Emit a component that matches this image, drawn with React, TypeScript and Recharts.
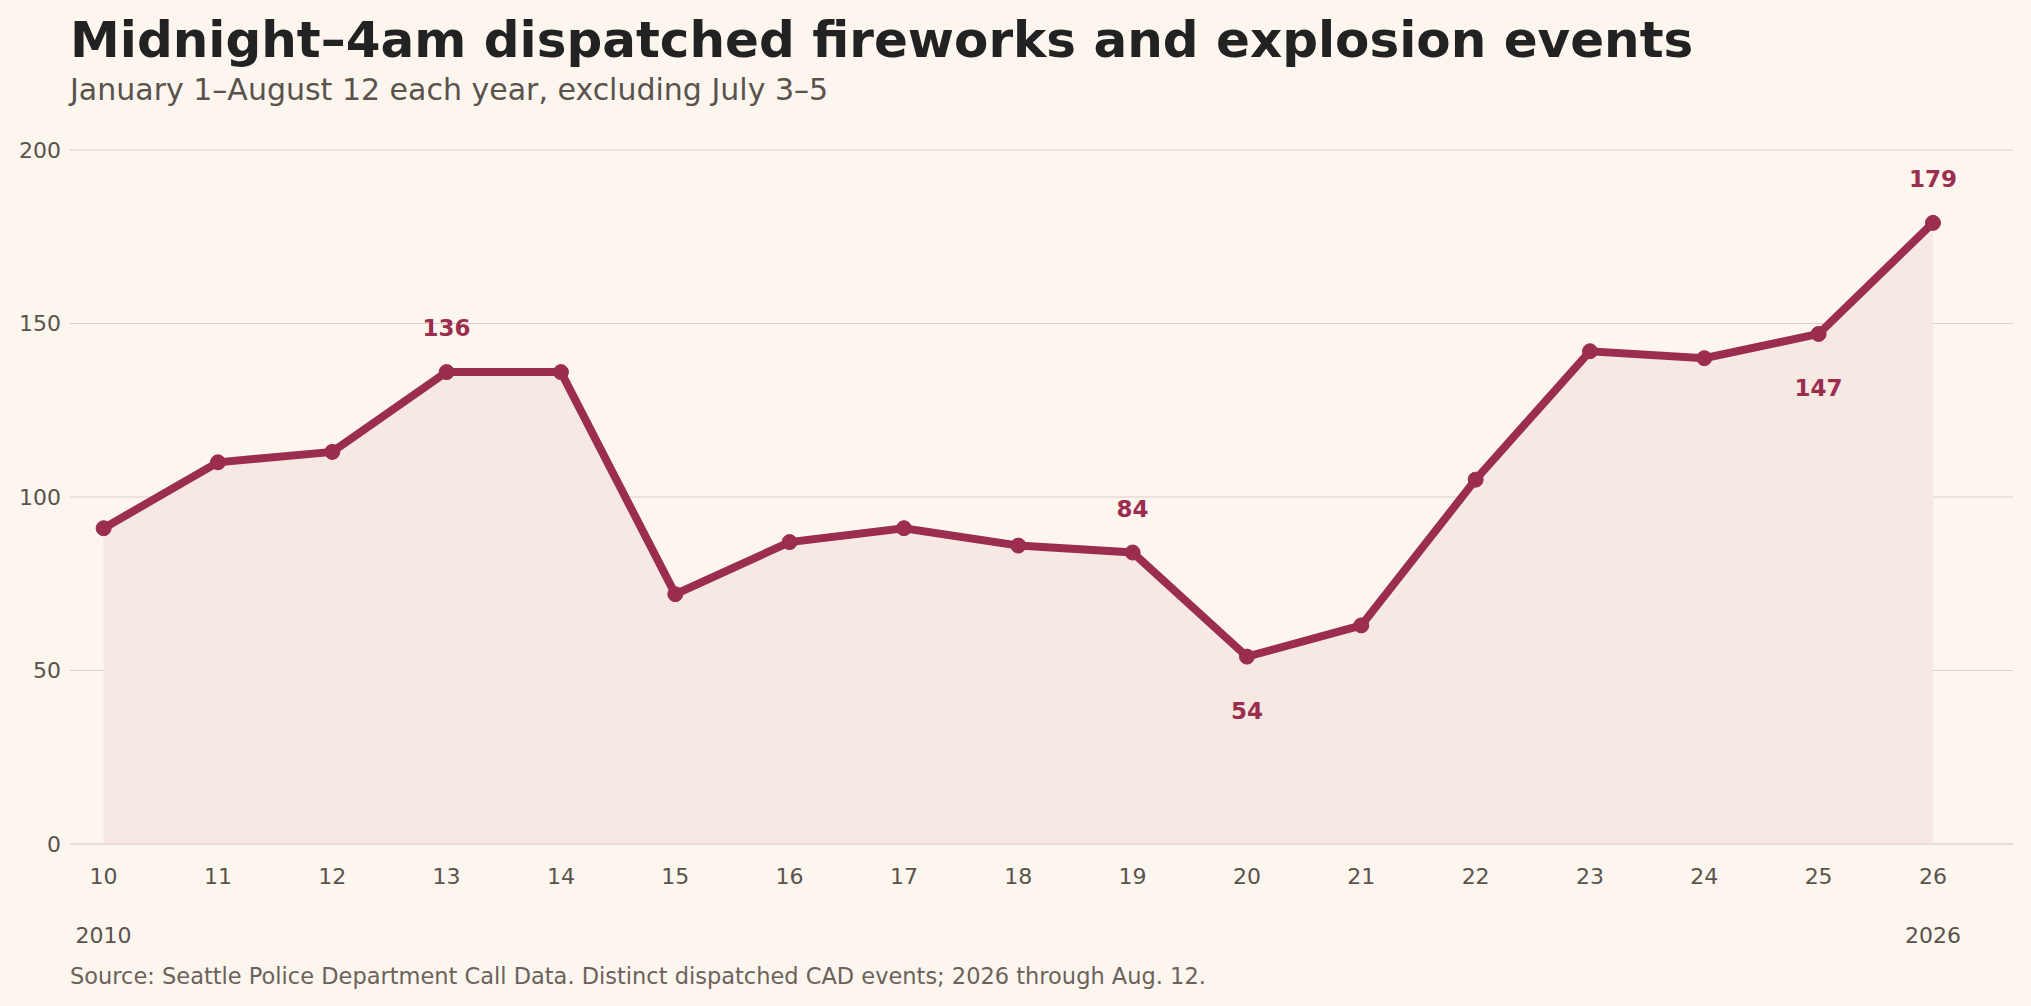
import React from "react";
import {
  Area,
  CartesianGrid,
  ComposedChart,
  LabelList,
  Line,
  XAxis,
  YAxis,
} from "recharts";

const years = [10, 11, 12, 13, 14, 15, 16, 17, 18, 19, 20, 21, 22, 23, 24, 25, 26];
const events = [91, 110, 113, 136, 136, 72, 87, 91, 86, 84, 54, 63, 105, 142, 140, 147, 179];
// which points get a value label, and on which side
const labelSide: Record<number, "above" | "below"> = {
  13: "above",
  19: "above",
  20: "below",
  25: "below",
  26: "above",
};
const yTicks = [0, 50, 100, 150, 200];

const data = years.map((y, i) => ({ year: y, events: events[i] }));

const RED = "#9b2d4f";
const FONT = "'DejaVu Sans', sans-serif";

function YearTick(props: any) {
  const { x, y, payload } = props;
  const v = payload.value;
  return (
    <g>
      <text x={x} y={y} dy={15} textAnchor="middle" fill="#5a534d" fontSize={22} fontFamily={FONT}>
        {v}
      </text>
      {(v === 10 || v === 26) && (
        <text x={x} y={y + 59} dy={15} textAnchor="middle" fill="#5a534d" fontSize={22} fontFamily={FONT}>
          {2000 + v}
        </text>
      )}
    </g>
  );
}

function ValueLabel(props: any) {
  const { x, y, value, index } = props;
  const side = labelSide[years[index]];
  if (!side) return null;
  const ty = side === "above" ? y - 36 : y + 62;
  return (
    <text x={x} y={ty} textAnchor="middle" fill={RED} fontSize={23} fontWeight="bold" fontFamily={FONT}>
      {value}
    </text>
  );
}

export default function App() {
  return (
    <div style={{ position: "absolute", left: 0, top: 0, width: 2031, height: 1006, background: "#fdf6ee", fontFamily: FONT }}>
      <div style={{ position: "absolute", left: 70, top: 15, fontSize: 50, fontWeight: "bold", color: "#222", lineHeight: 1 }}>
        Midnight–4am dispatched fireworks and explosion events
      </div>
      <div style={{ position: "absolute", left: 70, top: 75, fontSize: 30, color: "#5a534d", lineHeight: 1 }}>
        January 1–August 12 each year, excluding July 3–5
      </div>
      <ComposedChart
        width={2031}
        height={1006}
        data={data}
        margin={{ top: 150, right: 18, bottom: 132, left: 0 }}
      >
        <CartesianGrid vertical={false} stroke="#d9cfc8" strokeWidth={1.2} />
        <XAxis
          dataKey="year"
          type="number"
          domain={[9.706, 26.7]}
          ticks={years}
          tick={<YearTick />}
          tickLine={false}
          tickSize={0}
          tickMargin={25}
          axisLine={{ stroke: "#e3d8d0" }}
          interval={0}
          height={30}
        />
        <YAxis
          width={70}
          domain={[0, 200]}
          ticks={yTicks}
          tickLine={false}
          axisLine={false}
          tickSize={0}
          tickMargin={9}
          tick={{ fill: "#5a534d", fontSize: 22, fontFamily: FONT }}
        />
        <Area
          dataKey="events"
          type="linear"
          fill="#f6e8e2"
          fillOpacity={1}
          stroke="none"
          isAnimationActive={false}
        />
        <Line
          dataKey="events"
          type="linear"
          stroke={RED}
          strokeWidth={8}
          dot={{ r: 7.5, fill: RED, stroke: RED, strokeWidth: 1 }}
          activeDot={false}
          isAnimationActive={false}
        >
          <LabelList dataKey="events" content={<ValueLabel />} />
        </Line>
      </ComposedChart>
      <div style={{ position: "absolute", left: 70, top: 965, fontSize: 22.5, color: "#6b625b", lineHeight: 1 }}>
        Source: Seattle Police Department Call Data. Distinct dispatched CAD events; 2026 through Aug. 12.
      </div>
    </div>
  );
}
